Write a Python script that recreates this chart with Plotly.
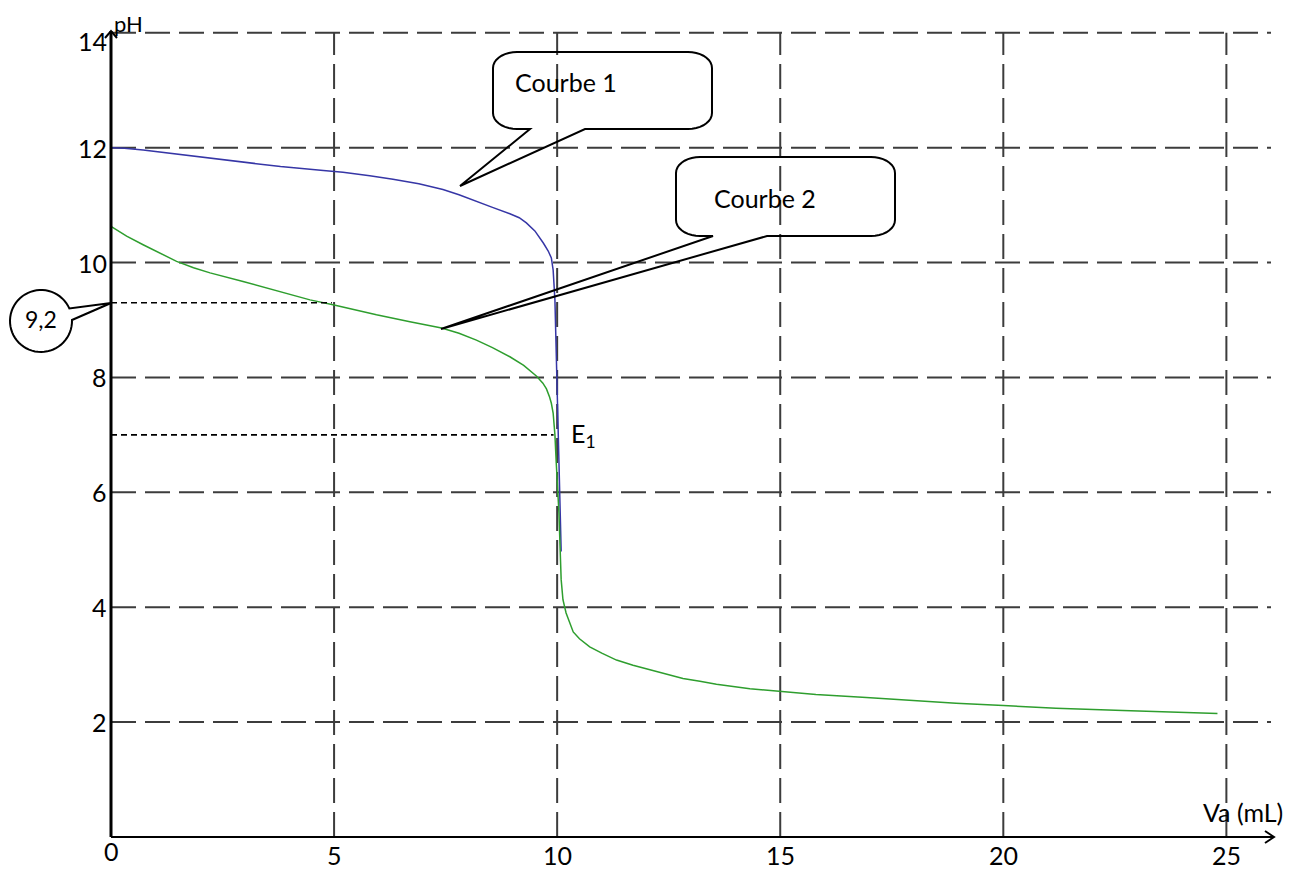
import numpy as np
import plotly.graph_objects as go

# ---------------- data ----------------
va_c1 = [0.0, 0.3, 0.72, 1.47, 2.2, 2.96, 3.8, 4.76, 5.2, 5.8, 6.32, 6.9, 7.44, 7.8, 8.19, 8.55, 8.94, 9.15, 9.31,
         9.5, 9.69, 9.8, 9.87, 9.91, 9.95, 9.98, 10.02, 10.05, 10.09]
ph_c1 = [12.0, 11.99, 11.96, 11.89, 11.82, 11.74, 11.67, 11.60, 11.57, 11.51, 11.45, 11.37, 11.27, 11.18, 11.06, 10.96,
         10.85, 10.78, 10.69, 10.55, 10.34, 10.2, 10.08, 9.87, 9.35, 8.36, 7.43, 6.2, 4.97]

va_c2 = [0.0, 0.35, 0.72, 1.1, 1.47, 1.85, 2.22, 2.96, 3.71, 4.46, 5.0, 5.95, 6.70, 7.41, 7.8, 8.19, 8.55, 8.94, 9.25,
         9.54, 9.68, 9.76, 9.83, 9.87, 9.91, 9.95, 9.98, 10.04, 10.09, 10.13, 10.2, 10.28, 10.36, 10.5, 10.73, 11.0,
         11.33, 11.7, 12.08, 12.45, 12.82, 13.2, 13.57, 14.32, 15.0, 15.8, 16.93, 17.67, 18.94, 20.0,
         21.18, 22.68, 23.8, 24.8]
ph_c2 = [10.63, 10.46, 10.31, 10.16, 10.02, 9.91, 9.82, 9.67, 9.51, 9.35, 9.26, 9.09, 8.97, 8.86, 8.77, 8.65, 8.52,
         8.36, 8.21, 8.02, 7.9, 7.8, 7.66, 7.55, 7.38, 7.0, 6.51, 5.64, 4.48, 4.13, 3.9, 3.72, 3.57, 3.45, 3.31, 3.2,
         3.08, 2.99, 2.91, 2.83, 2.76, 2.71, 2.66, 2.58, 2.53, 2.48, 2.43, 2.39, 2.33, 2.29,
         2.24, 2.20, 2.17, 2.15]

x_ticks = [0, 5, 10, 15, 20, 25]
x_tick_labels = ["0", "5", "10", "15", "20", "25"]
y_ticks = [2, 4, 6, 8, 10, 12, 14]
y_tick_labels = ["2", "4", "6", "8", "10", "12", "14"]

half_eq_ph = 9.3
half_eq_label = "9,2"
half_eq_va = 4.95
eq_ph = 7.0
eq_va = 9.92
eq_label = "E<sub>1</sub>"

# ---------------- layout geometry ----------------
# the page body has an 8px margin; positions below are in the reference's pixel frame
OFF = 8
FW, FH = 1295 - OFF, 869 - OFF
L, R, T, B = 111 - OFF, 24, 27 - OFF, 32
W = FW - L - R
H = FH - T - B
XR = [0, 26]
YR = [0, 14.1]
X0PX, Y0PX = 111, 837          # reference pixel of the data origin
XPU = W / (XR[1] - XR[0])
YPU = H / (YR[1] - YR[0])


def ppx(x):
    return (x - X0PX) / W


def ppy(y):
    return (Y0PX - y) / H


FONT = "Lato, Carlito, 'Open Sans', sans-serif"
FS = 25

fig = go.Figure()

fig.add_trace(go.Scatter(x=va_c1, y=ph_c1, mode="lines", line=dict(color="#3636a6", width=1.5),
                         name="Courbe 1", hoverinfo="x+y"))
fig.add_trace(go.Scatter(x=va_c2, y=ph_c2, mode="lines", line=dict(color="#2e9e2e", width=1.5),
                         name="Courbe 2", hoverinfo="x+y"))

shapes = []
GRID = dict(color="#3c3c3c", width=2, dash="25px,9px")
for v in y_ticks:
    shapes.append(dict(type="line", xref="x", yref="y", x0=0, x1=XR[1], y0=v, y1=v, line=GRID, layer="below"))
for v in x_ticks[1:]:
    shapes.append(dict(type="line", xref="x", yref="y", x0=v, x1=v, y0=0, y1=14, line=GRID, layer="below"))

DOT = dict(color="black", width=1.6, dash="6px,4px")
shapes.append(dict(type="line", xref="x", yref="y", x0=0, x1=half_eq_va, y0=half_eq_ph, y1=half_eq_ph, line=DOT))
shapes.append(dict(type="line", xref="x", yref="y", x0=0, x1=eq_va, y0=eq_ph, y1=eq_ph, line=DOT))

# axes with arrows
shapes.append(dict(type="line", xref="paper", yref="paper", x0=ppx(111), x1=ppx(111), y0=ppy(837), y1=ppy(31),
                   line=dict(color="black", width=3)))
shapes.append(dict(type="line", xref="paper", yref="paper", x0=ppx(111), x1=ppx(1273), y0=ppy(837), y1=ppy(837),
                   line=dict(color="black", width=2)))


def pathstr(pts, close=False):
    s = "M " + " L ".join(f"{ppx(a):.5f},{ppy(b):.5f}" for a, b in pts)
    return s + (" Z" if close else "")


shapes.append(dict(type="path", xref="paper", yref="paper",
                   path=pathstr([(1265, 831), (1274, 837), (1265, 843)]),
                   line=dict(color="black", width=2)))
shapes.append(dict(type="path", xref="paper", yref="paper",
                   path=pathstr([(105, 38), (111, 31), (117, 38)]),
                   line=dict(color="black", width=2)))


def callout_box(x0, y0, x1, y1, b0, b1, tip, rx=24, ry=16):
    """rounded rectangle with a wedge on the bottom edge, in reference pixels"""
    pts = []
    n = 10

    def corner(cx, cy, a0, a1):
        for t in np.linspace(a0, a1, n):
            pts.append((cx + rx * np.cos(t), cy + ry * np.sin(t)))

    corner(x0 + rx, y0 + ry, np.pi, 1.5 * np.pi)
    corner(x1 - rx, y0 + ry, 1.5 * np.pi, 2 * np.pi)
    corner(x1 - rx, y1 - ry, 0, 0.5 * np.pi)
    pts.append((b1, y1))
    pts.append(tip)
    pts.append((b0, y1))
    corner(x0 + rx, y1 - ry, 0.5 * np.pi, np.pi)
    return pathstr(pts, close=True)


BOX = dict(color="black", width=2)
shapes.append(dict(type="path", xref="paper", yref="paper",
                   path=callout_box(493, 52, 712, 129, 530, 585, (460, 186)), line=BOX))
shapes.append(dict(type="path", xref="paper", yref="paper",
                   path=callout_box(676, 157, 895, 236, 713, 767, (441, 329)), line=BOX))

# circle callout "9,2"
cx, cy, rr = 41, 321, 31
a_start = np.arctan2(320 - cy, 72 - cx)
a_end = np.arctan2(309 - cy, 68 - cx) + 2 * np.pi
circ = [(cx + rr * np.cos(t), cy + rr * np.sin(t)) for t in np.linspace(a_start, a_end, 60)]
circ.append((111, 303))
shapes.append(dict(type="path", xref="paper", yref="paper", path=pathstr(circ, close=True), line=BOX))

annotations = []
TF = dict(family=FONT, size=FS, color="black")
for v, t in zip(y_ticks, y_tick_labels):
    yy = Y0PX - v * YPU
    if v == 14:
        yy += 8
    annotations.append(dict(xref="paper", yref="paper", x=ppx(109), y=ppy(yy), text=t, showarrow=False,
                            xanchor="right", yanchor="middle", font=TF))
for v, t in zip(x_ticks, x_tick_labels):
    xx = X0PX + v * XPU
    yy = 851 if v == 0 else 855
    annotations.append(dict(xref="paper", yref="paper", x=ppx(xx), y=ppy(yy), text=t, showarrow=False,
                            xanchor="center", yanchor="middle", font=TF))

annotations += [
    dict(xref="paper", yref="paper", x=ppx(112), y=ppy(24), text="pH", showarrow=False,
         xanchor="left", yanchor="middle", font=dict(family=FONT, size=FS - 3, color="black")),
    dict(xref="paper", yref="paper", x=ppx(1243), y=ppy(812), text="Va (mL)", showarrow=False,
         xanchor="center", yanchor="middle", font=TF),
    dict(xref="paper", yref="paper", x=ppx(513), y=ppy(82), text="Courbe 1", showarrow=False,
         xanchor="left", yanchor="middle", font=TF),
    dict(xref="paper", yref="paper", x=ppx(712), y=ppy(198), text="Courbe 2", showarrow=False,
         xanchor="left", yanchor="middle", font=TF),
    dict(xref="paper", yref="paper", x=ppx(41), y=ppy(319), text=half_eq_label, showarrow=False,
         xanchor="center", yanchor="middle", font=dict(family=FONT, size=FS - 2, color="black")),
    dict(xref="paper", yref="paper", x=ppx(569), y=ppy(435), text=eq_label, showarrow=False,
         xanchor="left", yanchor="middle", font=TF),
]

fig.update_layout(
    width=FW, height=FH,
    margin=dict(l=L, r=R, t=T, b=B),
    paper_bgcolor="white", plot_bgcolor="white",
    showlegend=False,
    xaxis=dict(range=XR, showgrid=False, zeroline=False, showticklabels=False, showline=False, ticks=""),
    yaxis=dict(range=YR, showgrid=False, zeroline=False, showticklabels=False, showline=False, ticks=""),
    shapes=shapes,
    annotations=annotations,
    font=dict(family=FONT, size=FS),
)

fig.write_html("out.html")
